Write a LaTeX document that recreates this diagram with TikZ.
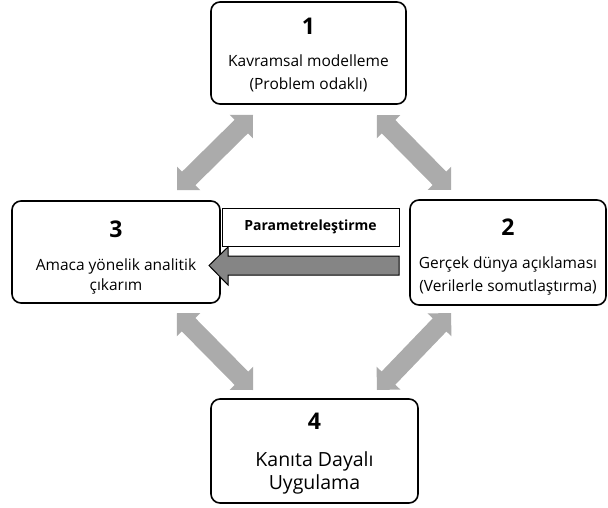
\documentclass[tikz,border=0pt]{standalone}
\usepackage{fontspec}
\setmainfont{Open Sans}
\usetikzlibrary{calc}

\definecolor{lightarrow}{HTML}{ABABAB}
\definecolor{darkarrow}{HTML}{858585}
\newcommand{\numfnt}{\fontsize{23}{26}\selectfont\bfseries}
% block arrow with a head at both ends, tips at #1 and #2
\newcommand{\grayway}[2]{%
  \coordinate (#1b) at ($(#1)!16.5pt!(#2)$);
  \coordinate (#2b) at ($(#2)!16.5pt!(#1)$);
  \fill[lightarrow] (#1) -- ($(#1b)!16.5pt!90:(#2)$) -- ($(#1b)!9.5pt!90:(#2)$)
    -- ($(#2b)!9.5pt!-90:(#1)$) -- ($(#2b)!16.5pt!-90:(#1)$) -- (#2)
    -- ($(#2b)!16.5pt!90:(#1)$) -- ($(#2b)!9.5pt!90:(#1)$)
    -- ($(#1b)!9.5pt!-90:(#2)$) -- ($(#1b)!16.5pt!-90:(#2)$) -- cycle;}

\begin{document}
\begin{tikzpicture}[x=1pt,y=-1pt,
    box/.style={draw, line width=1.6pt, rounded corners=9pt, align=center,
      inner sep=0pt, font=\fontsize{15.5}{23}\selectfont},
    parbox/.style={draw, line width=1pt, fill=white, minimum width=177pt,
      minimum height=38pt, font=\fontsize{14}{16}\selectfont\bfseries}]
    \useasboundingbox (0,0) rectangle (608,508);

    \node[box, minimum width=195pt, minimum height=102pt] (b1) at (308.5,53)
      {{\numfnt\rule{0pt}{20pt}1}\\[9pt]Kavramsal modelleme\\(Problem odaklı)};
    \node[box, minimum width=196pt, minimum height=105pt] (b2) at (508,252.5)
      {{\numfnt\rule{0pt}{26pt}2}\\[10pt]Gerçek dünya açıklaması\\(Verilerle somutlaştırma)};
    \node[box, minimum width=208pt, minimum height=102pt, font=\fontsize{15.5}{20}\selectfont] (b3) at (116,252)
      {{\numfnt\rule{0pt}{28pt}3}\\[13pt]Amaca yönelik analitik\\çıkarım};
    \node[box, minimum width=207pt, minimum height=104pt, font=\fontsize{19.5}{23}\selectfont] (b4) at (314.5,451)
      {{\numfnt\rule{0pt}{21pt}4}\\[14pt]Kanıta Dayalı\\Uygulama};

    \node[parbox] (param) at (310.5,227) {Parametreleştirme};

    % gray two-way arrows
    \coordinate (t31) at (177,190);
    \coordinate (t13) at (253,115);
    \coordinate (t12) at (377,115);
    \coordinate (t21) at (451,190);
    \coordinate (t34) at (177,313);
    \coordinate (t43) at (253,390);
    \coordinate (t24) at (451,313);
    \coordinate (t42) at (377,390);
    \grayway{t31}{t13}
    \grayway{t12}{t21}
    \grayway{t34}{t43}
    \grayway{t24}{t42}

    % arrow 2 -> 3
    \draw[fill=darkarrow, line width=1pt, line join=miter]
      (399,256) -- (228,256) -- (228,247) -- (209,265.5)
      -- (228,285) -- (228,275) -- (399,275) -- cycle;
\end{tikzpicture}
\end{document}
